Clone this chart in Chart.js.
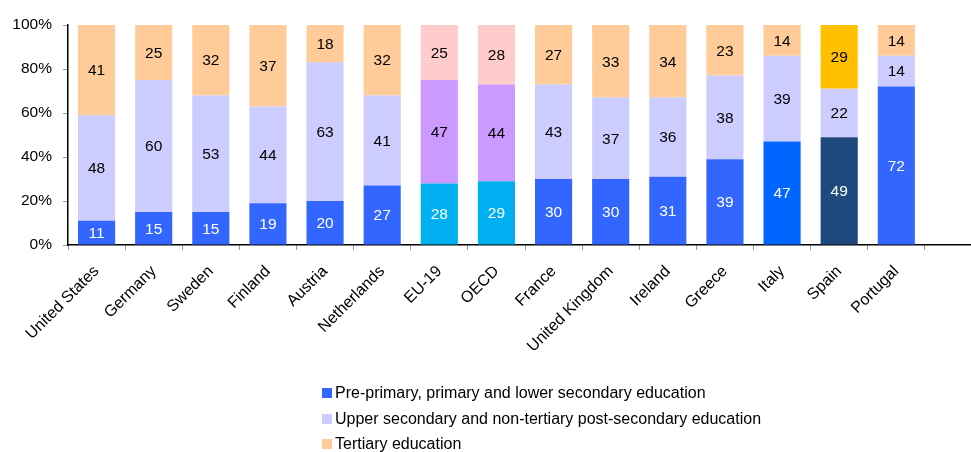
<!DOCTYPE html>
<html>
<head>
<meta charset="utf-8">
<script src="https://cdn.jsdelivr.net/npm/chart.js@4"></script>
<style>
  html, body { margin: 0; padding: 0; background: #fff; overflow: hidden; }
  #wrap { position: relative; width: 971px; height: 452px; overflow: hidden; }
  #grafico { position: absolute; left: 0; top: 0; }
  #legenda { position: absolute; left: 322px; top: 382px; font: 16px "Liberation Sans", Arial, sans-serif; color: #000; }
  #legenda div { height: 25.5px; line-height: 22px; white-space: nowrap; }
  #legenda span { display: inline-block; width: 10px; height: 10px; margin-right: 3px; vertical-align: 0px; }
</style>
</head>
<body>
<div id="wrap">
  <canvas id="grafico" width="985" height="452" style="width:985px;height:452px"></canvas>
  <div id="legenda"></div>
</div>
<script>
// Dados
const paises = ['United States', 'Germany', 'Sweden', 'Finland', 'Austria', 'Netherlands', 'EU-19', 'OECD',
  'France', 'United Kingdom', 'Ireland', 'Greece', 'Italy', 'Spain', 'Portugal'];
const basico = [11, 15, 15, 19, 20, 27, 28, 29, 30, 30, 31, 39, 47, 49, 72];
const secundario = [48, 60, 53, 44, 63, 41, 47, 44, 43, 37, 36, 38, 39, 22, 14];
const terciario = [41, 25, 32, 37, 18, 32, 25, 28, 27, 33, 34, 23, 14, 29, 14];
const nomesSeries = ['Pre-primary, primary and lower secondary education',
  'Upper secondary and non-tertiary post-secondary education',
  'Tertiary education'];
const ticksY = [0, 20, 40, 60, 80, 100];

// Cores (algumas barras destacadas)
const corBase = ['#3366FF', '#CCCCFF', '#FFCC99'];
function cores(serie) {
  return paises.map(p => {
    if (p === 'EU-19' || p === 'OECD') return ['#00B0F0', '#CC99FF', '#FFCCCC'][serie];
    if (p === 'Italy' && serie === 0) return '#0066FF';
    if (p === 'Spain' && serie === 0) return '#1F497D';
    if (p === 'Spain' && serie === 2) return '#FFC000';
    return corBase[serie];
  });
}

const familia = '"Liberation Sans", Arial, sans-serif';

// Rótulos dentro das barras
const rotulos = {
  id: 'rotulos',
  afterDatasetsDraw(chart) {
    const c = chart.ctx;
    c.save();
    c.font = '15.5px ' + familia;
    c.textAlign = 'center';
    c.textBaseline = 'middle';
    const area = chart.chartArea;
    chart.data.datasets.forEach((ds, i) => {
      chart.getDatasetMeta(i).data.forEach((bar, j) => {
        const v = ds.data[j];
        if (v == null) return;
        const top = Math.max(bar.y, area.top);
        c.fillStyle = i === 0 ? '#fff' : '#000';
        c.fillText(String(v), bar.x, (top + bar.base) / 2 + 1);
      });
    });
    c.restore();
  }
};

const ctx = document.getElementById('grafico').getContext('2d');
const grafico = new Chart(ctx, {
  type: 'bar',
  data: {
    labels: [...paises, ''],
    datasets: [basico, secundario, terciario].map((d, i) => ({
      label: nomesSeries[i],
      data: d,
      backgroundColor: cores(i),
      borderWidth: 0,
      barPercentage: 0.65,
      categoryPercentage: 1
    }))
  },
  options: {
    responsive: false,
    animation: false,
    layout: { padding: { top: 25, right: 3, left: 0, bottom: 97 } },
    plugins: { legend: { display: false }, tooltip: { enabled: false } },
    scales: {
      x: {
        stacked: true,
        afterFit: s => { s.height = 110; },
        grid: { drawOnChartArea: false, drawTicks: true, tickLength: 5, color: '#999', offset: true },
        border: { color: '#000', width: 1.5 },
        ticks: { color: '#000', font: { family: familia, size: 16 }, minRotation: 45, maxRotation: 45, autoSkip: false, padding: 12 }
      },
      y: {
        stacked: true,
        min: 0,
        max: 100,
        afterFit: s => { s.width = 68; },
        afterBuildTicks: s => { s.ticks = ticksY.map(v => ({ value: v })); },
        grid: { drawOnChartArea: false, drawTicks: true, tickLength: 5, color: '#999' },
        border: { color: '#000', width: 1.5 },
        ticks: { color: '#000', font: { family: familia, size: 15.5 }, padding: 11, callback: v => v + '%' }
      }
    }
  },
  plugins: [rotulos]
});

// Legenda em HTML (lista vertical)
const legenda = document.getElementById('legenda');
nomesSeries.forEach((n, i) => {
  legenda.innerHTML += `<div><span style="background:${corBase[i]}"></span>${n}</div>`;
});
</script>
</body>
</html>
